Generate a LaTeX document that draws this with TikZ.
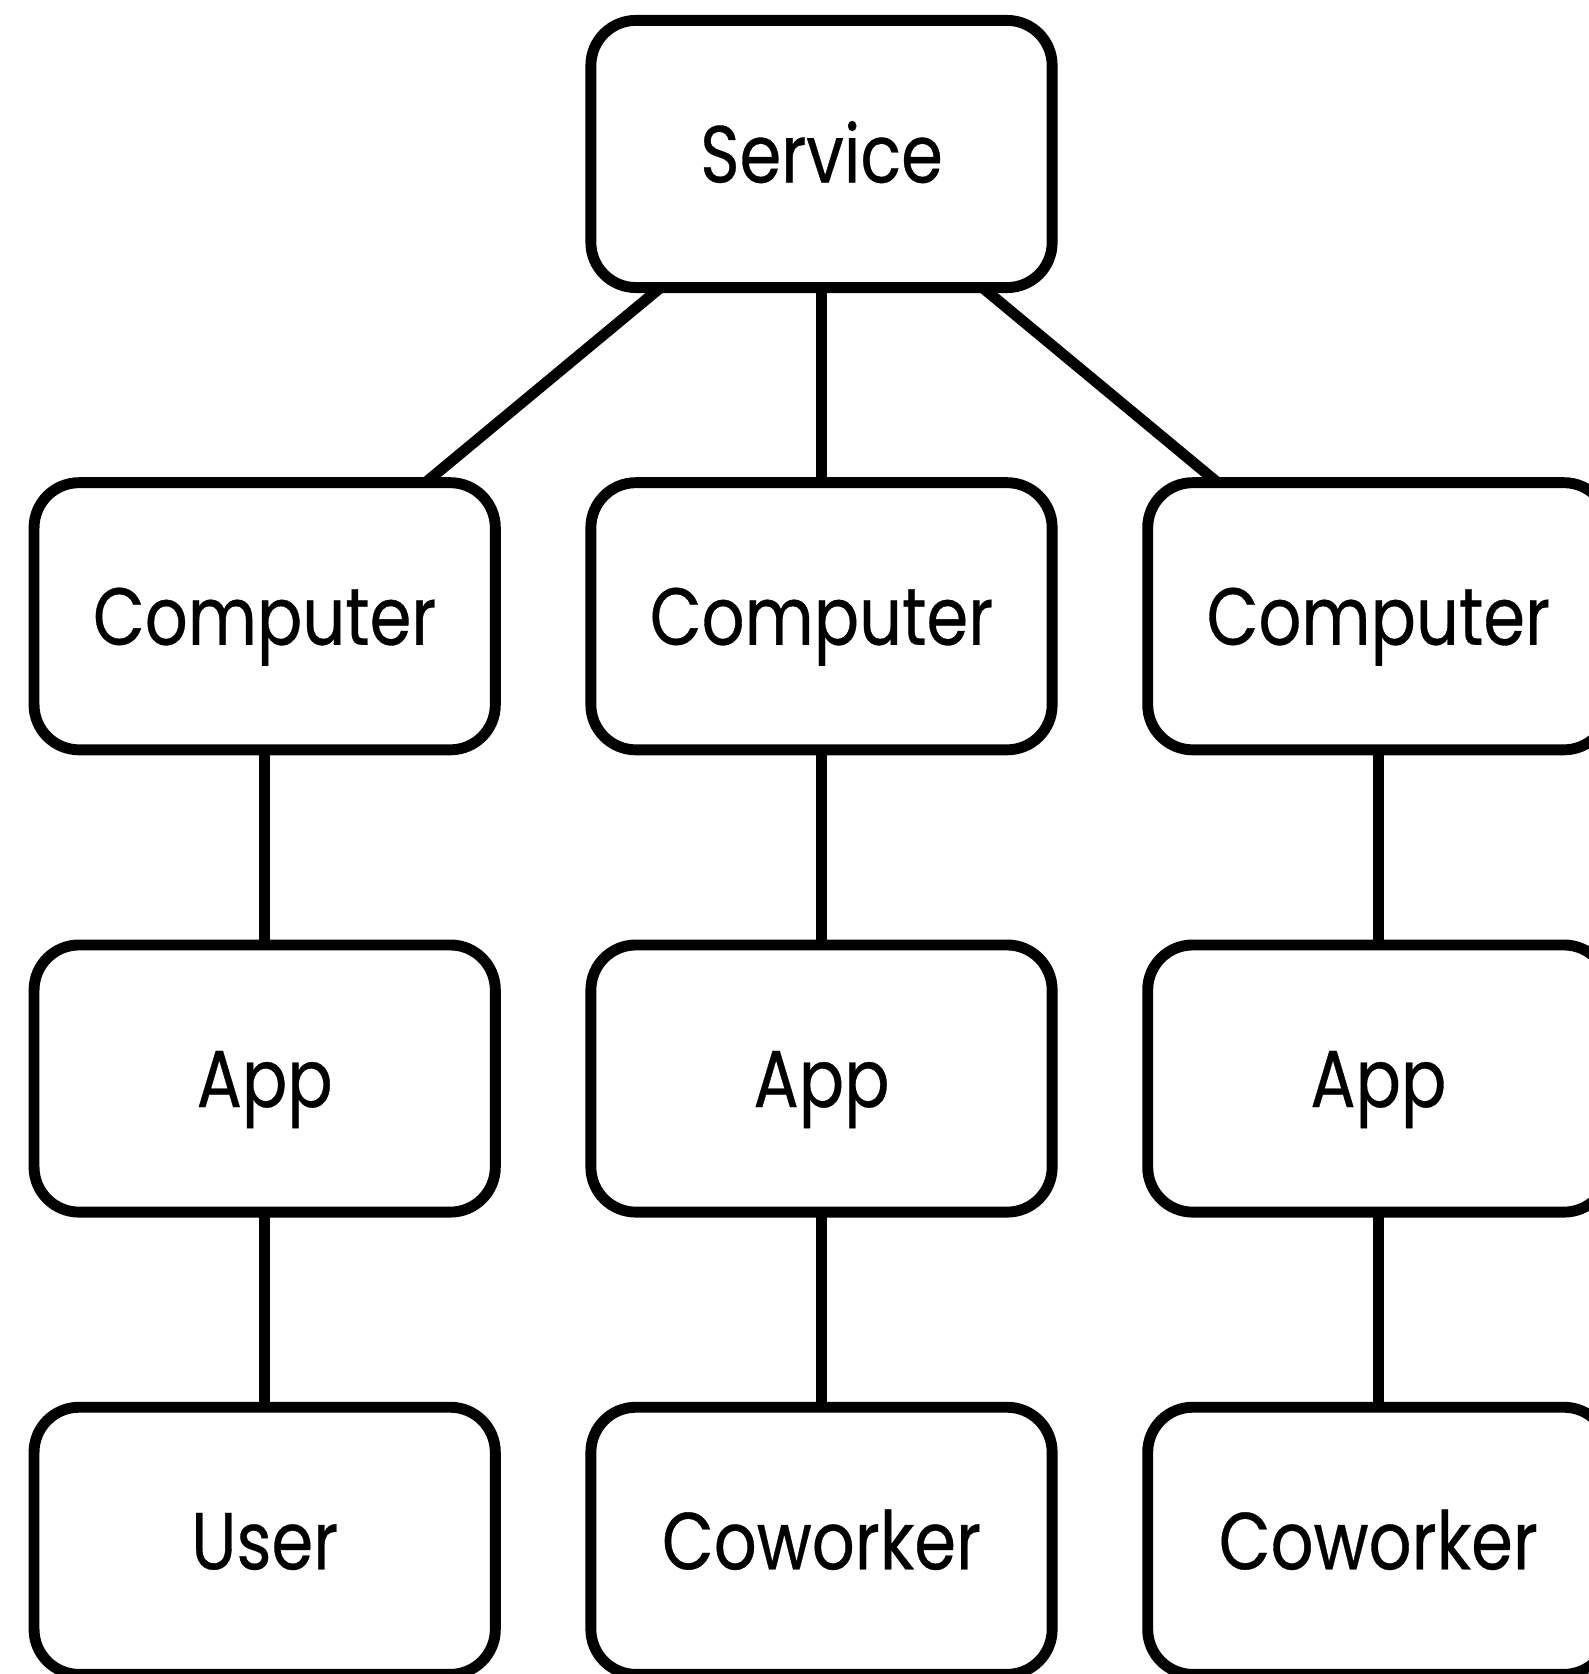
\documentclass[tikz,border=0pt]{standalone}
\usepackage{fontspec}
\setmainfont[FakeStretch=0.83, FakeBold=0.4]{Poppins}
\usetikzlibrary{positioning}

\begin{document}
\begin{tikzpicture}[x=0.01cm, y=-0.01cm, node distance=4.62cm and 5.565cm, on grid]
    \tikzset{box/.style={
        draw, line width=3.1pt, rounded corners=0.45cm,
        minimum width=4.61cm, minimum height=2.67cm, inner sep=0pt, outer sep=0pt,
        text height=0.57cm, text depth=0pt, font=\fontsize{23}{28}\selectfont
      },
      link/.style={line width=3.1pt}
    }

    \useasboundingbox (0,0) rectangle (1588,1674);

    \node[box] (S) at (821.5,154) {Service};

    \node[box] (C2) [below=of S] {Computer};
    \node[box] (C1) [left=of C2] {Computer};
    \node[box] (C3) [right=of C2] {Computer};

    \node[box] (A1) [below=of C1] {App};
    \node[box] (A2) [below=of C2] {App};
    \node[box] (A3) [below=of C3] {App};

    \node[box] (U) [below=of A1] {User};
    \node[box] (W2) [below=of A2] {Coworker};
    \node[box] (W3) [below=of A3] {Coworker};

    \draw[link] (S) -- (C1);
    \draw[link] (S) -- (C2);
    \draw[link] (S) -- (C3);

    \draw[link] (C1) -- (A1);
    \draw[link] (C2) -- (A2);
    \draw[link] (C3) -- (A3);

    \draw[link] (A1) -- (U);
    \draw[link] (A2) -- (W2);
    \draw[link] (A3) -- (W3);
\end{tikzpicture}
\end{document}
